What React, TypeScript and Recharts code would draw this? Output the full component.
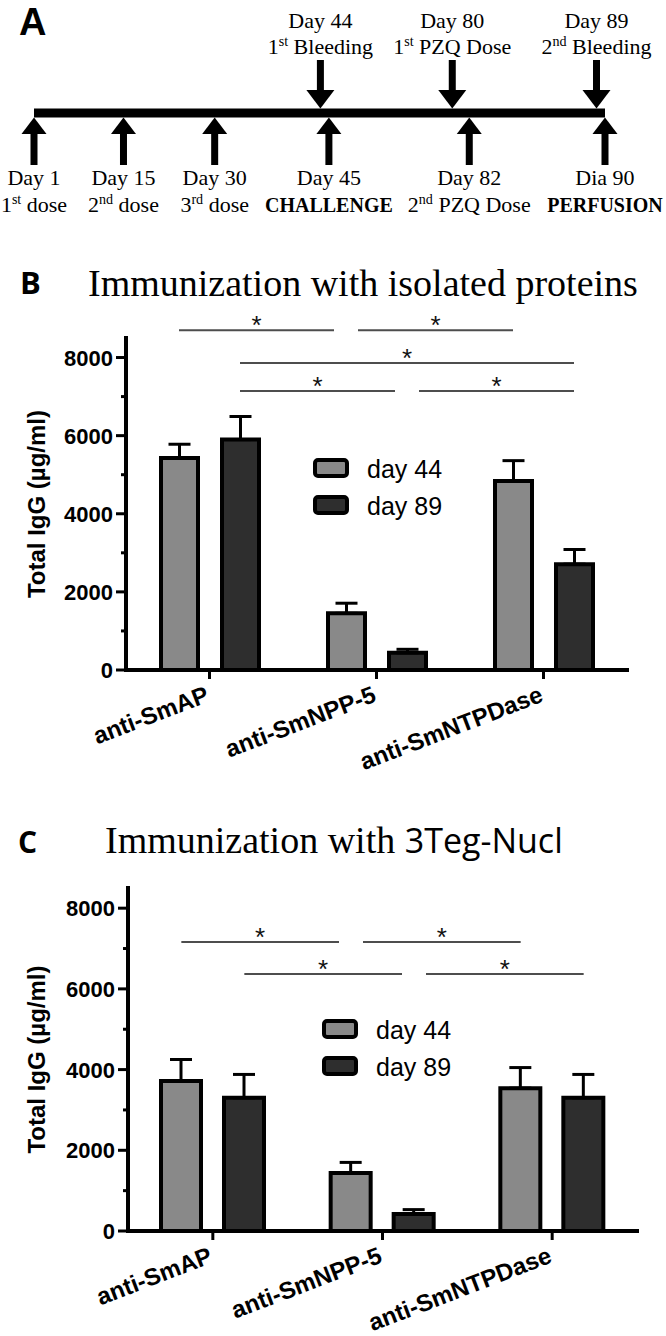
import React from "react";
import {
  BarChart,
  Bar,
  XAxis,
  YAxis,
  ErrorBar,
  Legend,
  ReferenceLine,
  ComposedChart,
  Scatter,
} from "recharts";

// ---- panel A: timeline ----
const doseDays = [1, 15, 30, 45, 82, 90];
const doseTitles = ["Day 1", "Day 15", "Day 30", "Day 45", "Day 82", "Dia 90"];
const doseNotes = ["1st dose", "2nd dose", "3rd dose", "CHALLENGE", "2nd PZQ Dose", "PERFUSION"];
const sampleDays = [44, 80, 89];
const sampleTitles = ["Day 44", "Day 80", "Day 89"];
const sampleNotes = ["1st Bleeding", "1st PZQ Dose", "2nd Bleeding"];

// ---- panels B and C ----
const proteins = ["anti-SmAP", "anti-SmNPP-5", "anti-SmNTPDase"];
const seriesNames = ["day 44", "day 89"];
const seriesFills = ["#898989", "#2e2e2e"];

const isolatedDay44 = [5430, 1450, 4840];
const isolatedDay89 = [5900, 440, 2710];
const isolatedErr44 = [350, 260, 520];
const isolatedErr89 = [590, 90, 375];

const nuclDay44 = [3720, 1440, 3540];
const nuclDay89 = [3300, 420, 3300];
const nuclErr44 = [530, 260, 510];
const nuclErr89 = [580, 110, 580];

const yTicks = [0, 1000, 2000, 3000, 4000, 5000, 6000, 7000, 8000];
const yLabelled = [0, 2000, 4000, 6000, 8000];

// significance brackets: [protein, series] -> [protein, series] at a level (ug/ml)
const isolatedSig = [
  { from: ["anti-SmAP", 0], to: ["anti-SmNPP-5", 0], level: 8700 },
  { from: ["anti-SmNPP-5", 0], to: ["anti-SmNTPDase", 0], level: 8700 },
  { from: ["anti-SmAP", 1], to: ["anti-SmNTPDase", 1], level: 7860 },
  { from: ["anti-SmAP", 1], to: ["anti-SmNPP-5", 1], level: 7140 },
  { from: ["anti-SmNPP-5", 1], to: ["anti-SmNTPDase", 1], level: 7140 },
];
const nuclSig = [
  { from: ["anti-SmAP", 0], to: ["anti-SmNPP-5", 0], level: 7160 },
  { from: ["anti-SmAP", 1], to: ["anti-SmNPP-5", 1], level: 6370 },
  { from: ["anti-SmNPP-5", 0], to: ["anti-SmNTPDase", 0], level: 7160 },
  { from: ["anti-SmNPP-5", 1], to: ["anti-SmNTPDase", 1], level: 6370 },
];

const SANS = "'Liberation Sans', Arial, sans-serif";
const SERIF = "'Liberation Serif', 'Times New Roman', serif";
const STATION_GAP = 20; // blank space between neighbouring captions on the timeline

const isCaps = (t: string) => t === t.toUpperCase();
const captionSize = (t: string) => (isCaps(t) ? 20 : 22);

let measureCtx: CanvasRenderingContext2D | null = null;
function captionWidth(text: string) {
  if (!measureCtx) measureCtx = document.createElement("canvas").getContext("2d");
  if (!measureCtx) return text.length * 10;
  measureCtx.font = `${isCaps(text) ? "bold " : ""}${captionSize(text)}px 'Liberation Serif'`;
  return measureCtx.measureText(text).width;
}

function ordinalText(text: string, size: number) {
  const m = text.match(/^(\d+)(st|nd|rd|th)(.*)$/);
  if (!m) return text;
  return (
    <>
      {m[1]}
      <tspan dy={-size * 0.36} fontSize={size * 0.64}>{m[2]}</tspan>
      <tspan dy={size * 0.36}>{m[3]}</tspan>
    </>
  );
}

function Caption({ x, y, text }: { x: number; y: number; text: string }) {
  const size = captionSize(text);
  return (
    <text x={x} y={y} textAnchor="middle" fontFamily={SERIF} fontSize={size} fontWeight={isCaps(text) ? "bold" : "normal"} fill="#000">
      {ordinalText(text, size)}
    </text>
  );
}

// the timeline is schematic: stations are spaced by the width of their captions
const timelineRows = (() => {
  const rows = doseDays.map((day, i) => {
    const prev = i > 0 ? doseDays[i - 1] : -Infinity;
    const j = sampleDays.findIndex((s) => s <= day && s > prev);
    const sample = j >= 0 ? { day: sampleDays[j], title: sampleTitles[j], note: sampleNotes[j] } : null;
    const texts = [doseTitles[i], doseNotes[i]].concat(sample ? [sample.title, sample.note] : []);
    return { day, y: 0, pos: 0, width: Math.max(...texts.map(captionWidth)), title: doseTitles[i], note: doseNotes[i], sample };
  });
  rows.forEach((r, i) => {
    if (i > 0) r.pos = rows[i - 1].pos + (rows[i - 1].width + r.width) / 2 + STATION_GAP;
  });
  return rows;
})();

function TimelineMark(props: any) {
  const { cx, cy, payload } = props;
  if (cx == null || cy == null) return null;
  const s = payload.sample;
  const dx = s ? cx - 8.5 * (payload.day - s.day) : 0;
  return (
    <g>
      <polygon points={`${cx},${cy + 4.5} ${cx - 12.5},${cy + 21} ${cx + 12.5},${cy + 21}`} fill="#000" />
      <rect x={cx - 3.5} y={cy + 20} width={7} height={32} fill="#000" />
      <Caption x={cx} y={cy + 72} text={payload.title} />
      <Caption x={cx} y={cy + 99} text={payload.note} />
      {s && (
        <g>
          <rect x={dx - 3.5} y={cy - 53} width={7} height={31} fill="#000" />
          <polygon points={`${dx - 14},${cy - 23} ${dx + 14},${cy - 23} ${dx},${cy - 4.5}`} fill="#000" />
          <Caption x={dx} y={cy - 85} text={s.title} />
          <Caption x={dx} y={cy - 59} text={s.note} />
        </g>
      )}
    </g>
  );
}

function Timeline() {
  const first = timelineRows[0].pos;
  const last = timelineRows[timelineRows.length - 1].pos;
  return (
    <ComposedChart width={666} height={220} data={timelineRows} margin={{ top: 6, right: 61, bottom: 0, left: 34 }}>
      <XAxis dataKey="pos" type="number" domain={[first, last]} hide />
      <YAxis type="number" domain={[-1, 1]} hide />
      <ReferenceLine
        segment={[
          { x: first, y: 0 },
          { x: last, y: 0 },
        ]}
        stroke="#000"
        strokeWidth={9}
        ifOverflow="visible"
      />
      <Scatter dataKey="y" shape={TimelineMark} isAnimationActive={false} />
    </ComposedChart>
  );
}

function YTick(props: any) {
  const { x, y, payload } = props;
  const major = yLabelled.includes(payload.value);
  return (
    <g>
      <line x1={x - (major ? 10 : 5)} x2={x} y1={y} y2={y} stroke="#000" strokeWidth={3} />
      {major && (
        <text x={x - 13} y={y + 8} textAnchor="end" fontFamily={SANS} fontWeight="bold" fontSize={22} fill="#000">
          {payload.value}
        </text>
      )}
    </g>
  );
}

function XTick(props: any) {
  const { x, y, payload } = props;
  const tx = x + 1;
  const ty = y + 31;
  return (
    <g>
      <line x1={x} x2={x} y1={y} y2={y + 9} stroke="#000" strokeWidth={3} />
      <text x={tx} y={ty} textAnchor="end" transform={`rotate(-21 ${tx} ${ty})`} fontFamily={SANS} fontWeight="bold" fontSize={24} fill="#000">
        {payload.value}
      </text>
    </g>
  );
}

function YTitle(props: any) {
  const vb = props.viewBox || { x: 0, y: 0, width: 0, height: 0 };
  const cx = vb.x + 45;
  const cy = vb.y + vb.height / 2;
  return (
    <text x={cx} y={cy} transform={`rotate(-90 ${cx} ${cy})`} textAnchor="middle" fontFamily={SANS} fontWeight="bold" fontSize={24} fill="#000">
      Total IgG (µg/ml)
    </text>
  );
}

function LegendBox(props: any) {
  const items = props.payload || [];
  return (
    <svg width={200} height={90}>
      {items.map((it: any, i: number) => (
        <g key={i}>
          <rect x={2} y={8 + i * 37} width={32} height={16} rx={3} fill={it.color} stroke="#000" strokeWidth={4} />
          <text x={54} y={26 + i * 37} fontFamily={SANS} fontSize={25} fill="#000">{it.value}</text>
        </g>
      ))}
    </svg>
  );
}

const axisStyle = { stroke: "#000", strokeWidth: 4, strokeLinecap: "square" as const };

function sigShape(dx1: number, dx2: number) {
  return (p: any) => {
    const x1 = Number(p.x1) + dx1;
    const x2 = Number(p.x2) + dx2;
    const y = Number(p.y1);
    return (
      <g>
        <line x1={x1} x2={x2} y1={y} y2={y} stroke="#4d4d4d" strokeWidth={2} />
        <text x={(x1 + x2) / 2} y={y + 4} textAnchor="middle" fontFamily={SANS} fontSize={26} fill="#111">*</text>
      </g>
    );
  };
}

type Sig = { from: (string | number)[]; to: (string | number)[]; level: number };

function IgGChart(props: {
  day44: number[];
  day89: number[];
  err44: number[];
  err89: number[];
  sig: Sig[];
  height: number;
  margin: { top: number; right: number; bottom: number; left: number };
  axisWidth: number;
  barSize: number;
  barGap: number;
  legendPos: { left: number; top: number };
}) {
  const { day44, day89, err44, err89, sig, height, margin, axisWidth, barSize, barGap, legendPos } = props;
  const rows = proteins.map((p, i) => ({
    protein: p,
    d44: day44[i],
    d89: day89[i],
    e44: [0, err44[i]],
    e89: [0, err89[i]],
  }));
  const half = (barSize + barGap) / 2;
  const inset = 12;
  const shared = (s: Sig, end: (string | number)[]) =>
    sig.some(
      (o) =>
        o !== s &&
        o.level === s.level &&
        [o.from, o.to].some((e) => e[0] === end[0] && e[1] === end[1])
    );
  return (
    <BarChart width={666} height={height} data={rows} margin={margin} barSize={barSize} barGap={barGap}>
      <XAxis dataKey="protein" tick={(p: any) => <XTick {...p} />} tickLine={false} tickSize={0} tickMargin={0} axisLine={axisStyle} height={60} interval={0} />
      <YAxis
        type="number"
        domain={[0, 8500]}
        ticks={yTicks}
        interval={0}
        tick={(p: any) => <YTick {...p} />}
        tickLine={false}
        tickSize={0}
        tickMargin={0}
        axisLine={axisStyle}
        width={axisWidth}
        label={<YTitle />}
      />
      <Legend
        layout="horizontal"
        verticalAlign="middle"
        align="center"
        content={(p: any) => <LegendBox {...p} />}
        wrapperStyle={{ left: legendPos.left, top: legendPos.top - 6, width: 200, height: 90 }}
      />
      <Bar dataKey="d44" name={seriesNames[0]} fill={seriesFills[0]} stroke="#000" strokeWidth={4} isAnimationActive={false}>
        <ErrorBar dataKey="e44" direction="y" width={11} stroke="#000" strokeWidth={3} />
      </Bar>
      <Bar dataKey="d89" name={seriesNames[1]} fill={seriesFills[1]} stroke="#000" strokeWidth={4} isAnimationActive={false}>
        <ErrorBar dataKey="e89" direction="y" width={11} stroke="#000" strokeWidth={3} />
      </Bar>
      {sig.map((s, i) => {
        const dx1 = (s.from[1] === 0 ? -half : half) + (shared(s, s.from) ? inset : 0);
        const dx2 = (s.to[1] === 0 ? -half : half) - (shared(s, s.to) ? inset : 0);
        return (
          <ReferenceLine
            key={i}
            segment={[
              { x: s.from[0] as string, y: s.level },
              { x: s.to[0] as string, y: s.level },
            ]}
            ifOverflow="visible"
            shape={sigShape(dx1, dx2)}
          />
        );
      })}
    </BarChart>
  );
}

export default function App() {
  return (
    <div style={{ position: "absolute", left: 0, top: 0, width: 666, height: 1336, background: "#fff", overflow: "hidden" }}>
      <svg width={666} height={1336} style={{ position: "absolute", left: 0, top: 0 }}>
        <text x={19} y={35} fontFamily={SANS} fontWeight="bold" fontSize={38}>A</text>
        <text x={20} y={294} fontFamily="'Open Sans', sans-serif" fontWeight="bold" fontSize={31}>B</text>
        <text x={88} y={296} fontFamily={SERIF} fontSize={38}>Immunization with isolated proteins</text>
        <text x={18} y={853} fontFamily="'Open Sans', sans-serif" fontWeight="bold" fontSize={30}>C</text>
        <text x={105} y={853} fontFamily={SERIF} fontSize={38}>
          Immunization with <tspan fontFamily="'Open Sans', sans-serif" fontSize={34}>3Teg-Nucl</tspan>
        </text>
      </svg>
      <div style={{ position: "absolute", left: 0, top: 0 }}>
        <Timeline />
      </div>
      <div style={{ position: "absolute", left: 0, top: 230 }}>
        <IgGChart
          day44={isolatedDay44}
          day89={isolatedDay89}
          err44={isolatedErr44}
          err89={isolatedErr89}
          sig={isolatedSig}
          height={570}
          margin={{ top: 108, right: 39, bottom: 70, left: 0 }}
          axisWidth={126}
          barSize={37}
          barGap={24}
          legendPos={{ left: 313, top: 228 }}
        />
      </div>
      <div style={{ position: "absolute", left: 0, top: 860 }}>
        <IgGChart
          day44={nuclDay44}
          day89={nuclDay89}
          err44={nuclErr44}
          err89={nuclErr89}
          sig={nuclSig}
          height={476}
          margin={{ top: 28, right: 29, bottom: 45, left: 0 }}
          axisWidth={128}
          barSize={40}
          barGap={23}
          legendPos={{ left: 322, top: 159 }}
        />
      </div>
    </div>
  );
}
